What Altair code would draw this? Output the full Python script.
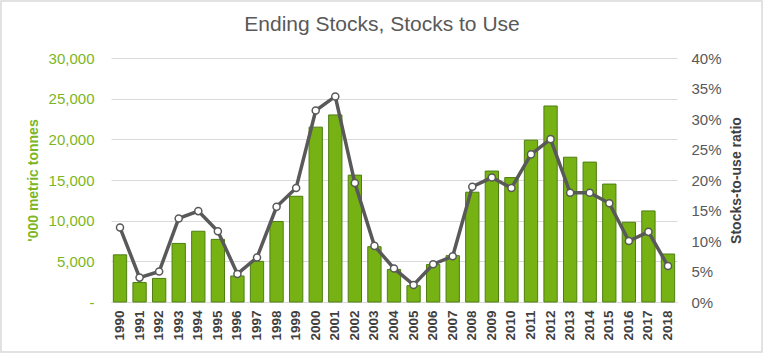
import altair as alt
import pandas as pd

years = [str(y) for y in range(1990, 2019)]
stocks = [5800, 2400, 2900, 7200, 8700, 7700, 3200, 5000, 9900, 13000,
          21500, 23000, 15600, 6800, 4000, 2000, 4600, 5700, 13500, 16100,
          15300, 19900, 24100, 17800, 17200, 14500, 9800, 11200, 5900]
ratio = [12.2, 4.0, 5.0, 13.7, 14.9, 11.6, 4.6, 7.3, 15.6, 18.7,
         31.4, 33.7, 19.5, 9.2, 5.5, 2.8, 6.2, 7.5, 18.9, 20.4,
         18.7, 24.2, 26.7, 17.9, 17.9, 16.2, 10.0, 11.5, 5.9]

df = pd.DataFrame({"year": years, "stocks": stocks, "ratio": [r / 100 for r in ratio]})

FONT = "Liberation Sans"
GREEN_LBL = "#7DB625"

x = alt.X("year:N", title=None,
          scale=alt.Scale(paddingInner=0.32, paddingOuter=0.12),
          axis=alt.Axis(labelAngle=270, labelFontWeight="bold", labelFontSize=13.5,
                        labelColor="#404040", labelFont=FONT, ticks=False,
                        domainColor="#d9d9d9", labelPadding=8, labelBaseline="middle"))

bars = alt.Chart(df).mark_bar(color="#76B214", stroke="#4E7E12", strokeWidth=1).encode(
    x=x,
    y=alt.Y("stocks:Q", title="'000 metric tonnes",
            scale=alt.Scale(domain=[0, 30000], nice=False),
            axis=alt.Axis(orient="left", values=[0, 5000, 10000, 15000, 20000, 25000, 30000],
                          labelExpr="datum.value == 0 ? '-' : format(datum.value, ',')",
                          labelColor=GREEN_LBL, labelFontSize=15, labelFont=FONT,
                          titleColor=GREEN_LBL, titleFontSize=14, titleFontWeight="bold",
                          titleFont=FONT, ticks=False, domain=False, labelPadding=17,
                          titlePadding=8, grid=True, gridColor="#d9d9d9")),
)

ratio_y = alt.Y("ratio:Q", title="Stocks-to-use ratio",
                scale=alt.Scale(domain=[0, 0.4], nice=False),
                axis=alt.Axis(orient="right", values=[0, 0.05, 0.1, 0.15, 0.2, 0.25, 0.3, 0.35, 0.4],
                              format=".0%", labelColor="#595959", labelFontSize=15, labelFont=FONT,
                              titleColor="#404040", titleFontSize=14, titleFontWeight="bold",
                              titleFont=FONT, ticks=False, domain=False, labelPadding=14,
                              titlePadding=8, titleAngle=270, titleBaseline="top", grid=False))

line = alt.Chart(df).mark_line(color="#595959", strokeWidth=3.5).encode(x=x, y=ratio_y)
pts = alt.Chart(df).mark_point(filled=True, fill="white", stroke="#595959", strokeWidth=1.5,
                               size=50, opacity=1).encode(x=x, y=ratio_y)

frame = alt.Chart(pd.DataFrame({"f": [0]})).mark_rect(
    fill=None, stroke="#d9d9d9", strokeWidth=1.5).encode(
    x=alt.value(-110), x2=alt.value(651), y=alt.value(-57), y2=alt.value(294))

chart = alt.layer(frame, bars, line + pts).resolve_scale(y="independent").properties(
    width=566, height=244,
    autosize=alt.AutoSizeParams(type="none"),
    padding={"left": 111, "top": 58, "right": 87, "bottom": 52},
    title=alt.TitleParams("Ending Stocks, Stocks to Use", fontSize=21, font=FONT,
                          color="#595959", fontWeight="normal", offset=-35, dx=-12),
    background="white",
).configure_view(stroke=None)

chart.save("out.html", embed_options={"renderer": "svg", "actions": False})
